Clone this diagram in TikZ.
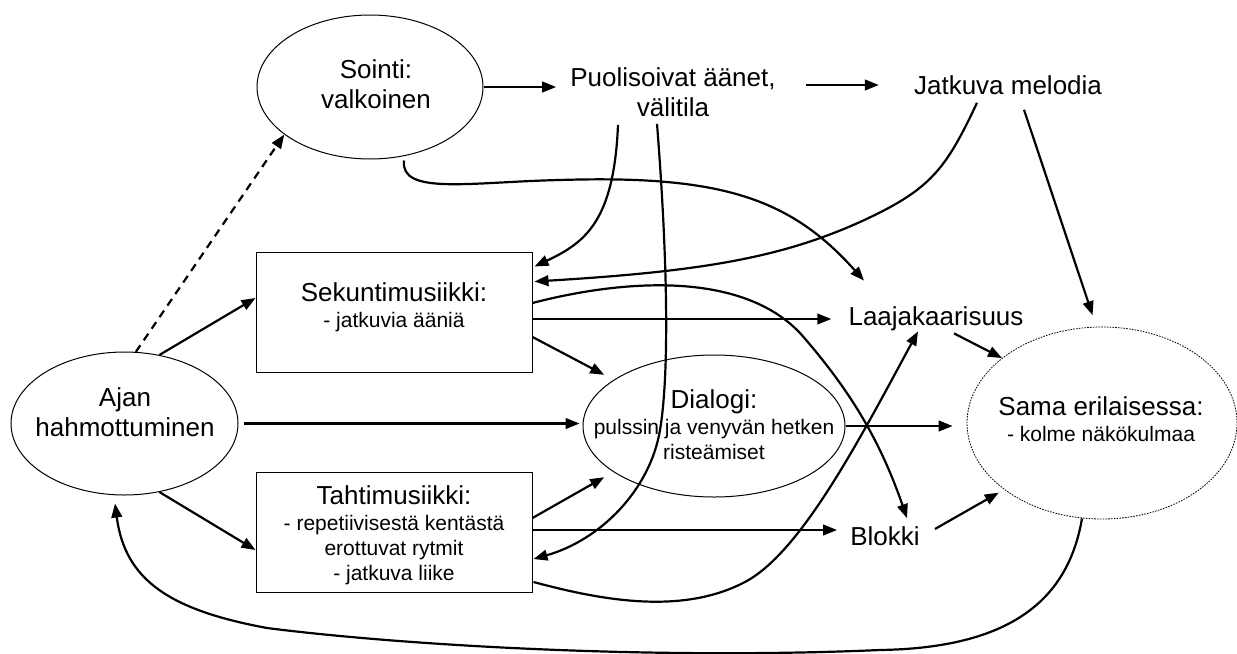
\documentclass[tikz,border=0pt]{standalone}
\usepackage{fontspec}
\setmainfont{Liberation Sans}
\usetikzlibrary{shapes.geometric,arrows.meta,calc}
\newcommand{\pien}{\fontsize{15.75}{18.75}\selectfont}

\begin{document}
\begin{tikzpicture}[x=0.75pt,y=0.75pt,yscale=-1,xscale=1,
  oval/.style={draw, ellipse, line width=0.75pt, inner sep=0pt},
  laatikko/.style={draw, line width=0.75pt, minimum width=207pt, minimum height=90pt},
  teksti/.style={inner sep=1.5pt, align=center, font=\fontsize{19.5}{22.5}\selectfont},
  nuoli/.style={line width=1.65pt, -{Triangle[length=10.5pt,width=8pt]}}]
\useasboundingbox (0,0) rectangle (1237,653);

%Shape: Ellipse
\node[oval, minimum width=169.5pt, minimum height=108pt] (sointi) at (370,87) {};
%Shape: Ellipse
\node[oval, minimum width=170.25pt, minimum height=107.25pt] (ajan) at (124.5,423.5) {};
%Shape: Ellipse
\node[oval, minimum width=196.5pt, minimum height=106.5pt] (dial) at (714,426) {};
%Shape: Ellipse
\node[oval, dash pattern=on 1.2pt off 0.9pt, line width=0.6pt, minimum width=202.5pt, minimum height=144pt] (sama) at (1102,423) {};
%Shape: Rectangle
\node[laatikko] (sek) at (394,312) {};
%Shape: Rectangle
\node[laatikko] (tahti) at (394,532) {};

% Text Node
\node[teksti] (sointit) at (376,84) {Sointi:\\valkoinen};
% Text Node
\node[teksti] (puol) at (673,92) {Puolisoivat äänet,\\välitila};
% Text Node
\node[teksti] (jatk) at (1008,85) {Jatkuva melodia};
% Text Node
\node[teksti] (sekt) at (394,307) {Sekuntimusiikki:\\[-3pt]\pien - jatkuvia ääniä};
% Text Node
\node[teksti] (ajant) at (125,412) {Ajan\\hahmottuminen};
% Text Node
\node[teksti] (tahtit) at (394,535) {Tahtimusiikki:\\[-3pt]\pien - repetiivisestä kentästä\\[-3.75pt]\pien erottuvat rytmit\\[-3.75pt]\pien - jatkuva liike};
% Text Node
\node[teksti] (dialt) at (714,425) {Dialogi:\\[-3pt]\pien pulssin ja venyvän hetken\\[-3.75pt]\pien risteämiset};
% Text Node
\node[teksti] (laaja) at (936,319) {Laajakaarisuus};
% Text Node
\node[teksti] (blokki) at (885,536) {Blokki};
% Text Node
\node[teksti] (samat) at (1101,419) {Sama erilaisessa:\\[-3pt]\pien - kolme näkökulmaa};

%Straight Lines
\draw[nuoli, shorten >=9pt] (sointi.east) -- (sointi.east -| puol.west);
%Straight Lines
\draw[nuoli, shorten <=21pt, shorten >=24.75pt] (puol.east |- jatk.west) -- (jatk.west);
%Straight Lines
\draw[nuoli, shorten >=11.25pt] (sek.east |- laaja.west) -- (laaja.west);
%Straight Lines
\draw[nuoli, shorten <=3.75pt, shorten >=2.25pt] (ajan.east) -- (ajan.east -| dial.west);
%Straight Lines
\draw[nuoli, shorten >=8.25pt] ($(blokki.west -| tahti.east)+(0,-6)$) -- ($(blokki.west)+(0,-6)$);
%Straight Lines
\draw[nuoli, shorten >=10.5pt] (dial.east) -- (dial.east -| sama.west);
%Straight Lines
\draw[nuoli] (ajan.63) -- ($(sek.west)+(0,-14)$);
%Straight Lines
\draw[nuoli] (ajan.-63) -- ($(tahti.west)+(0,18)$);
%Straight Lines
\draw[nuoli, dash pattern=on 6pt off 4.5pt] (ajan.81) -- (sointi.209);
%Straight Lines
\draw[nuoli] ($(sek.east)+(0,25)$) -- ($(dial.center)!1.1!(dial.155)$);
%Straight Lines
\draw[nuoli] ($(tahti.east)+(0,-14)$) -- ($(dial.center)!1.1!(dial.205)$);
%Straight Lines
\draw[nuoli] ($(laaja.south)+(18,0)$) -- (sama.147);
%Straight Lines
\draw[nuoli] ($(blokki.east)+(13,-7)$) -- ($(sama.center)!1.05!(sama.214)$);
%Straight Lines
\draw[nuoli] ($(jatk.south)+(16,13)$) -- ($(sama.center)!1.12!(sama.95)$);

%Curve Lines
\draw[nuoli] ($(puol.south)+(-55,6)$) .. controls +(-4,96) and +(51,-24) .. ($(sek.north east)+(2,15)$);
%Curve Lines
\draw[nuoli] ($(puol.south)+(-16,5)$) .. controls +(10,127) and +(10,-60) .. (660,430) .. controls +(-10,60) and +(67,-19) .. ($(tahti.east)+(1,27)$);
%Curve Lines
\draw[nuoli] ($(jatk.south)+(-31,6)$) .. controls +(-32,68) and +(70,-32) .. (860,222) .. controls +(-80,36) and +(166,-10) .. ($(sek.north east)+(2,30)$);
%Curve Lines
\draw[nuoli] ($(sointi.south)+(34,1)$) .. controls +(-4,35) and +(-90,2) .. (560,180) .. controls +(160,-5) and +(-74,-83) .. ($(laaja.north)+(-72,-24)$);
%Curve Lines
\draw[nuoli] ($(sek.east)+(0,-9)$) .. controls +(88,-23) and +(-60,-63) .. (800,333) .. controls +(50,57) and +(-27,-78) .. ($(blokki.north)+(22,-6)$);
%Curve Lines
\draw[nuoli] ($(tahti.east)+(1,50)$) .. controls +(67,18) and +(-63,32) .. (743,583) .. controls +(57,-28) and +(-58,107) .. ($(laaja.south)+(-18,-2)$);
%Curve Lines
\draw[nuoli] ($(sama.south)+(-20,-1)$) .. controls +(-14,82) and +(130,-2) .. (880,650) .. controls +(-230,10) and +(133,17) .. (267,628) .. controls +(-97,-18) and +(10,77) .. ($(ajan.south)+(-9.5,8)$);

\end{tikzpicture}
\end{document}
